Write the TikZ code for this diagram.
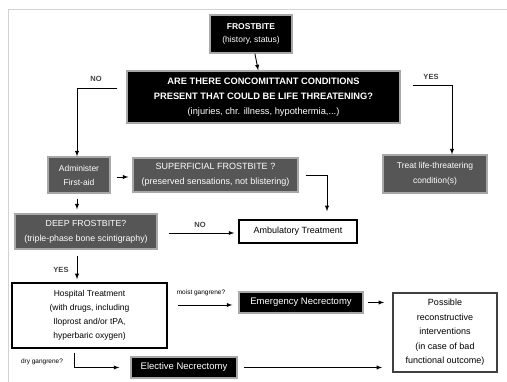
\documentclass[tikz,border=0pt]{standalone}
\usepackage{fontspec}
\setmainfont{Liberation Sans}
\definecolor{boxgrey}{HTML}{565656}
\definecolor{rimgrey}{HTML}{A8A8A8}

\begin{document}
\begin{tikzpicture}[->,>=latex,x=1pt,y=-1pt,line width=0.9pt,
		black box/.style={rectangle,draw=rimgrey,line width=1.4pt,fill=black,text=white,align=center,inner sep=0pt},
		grey box/.style={rectangle,draw=rimgrey,line width=1.2pt,fill=boxgrey,text=white,align=center,inner sep=0pt},
		white box/.style={rectangle,draw=black,line width=1.5pt,fill=white,align=center,inner sep=0pt},
		answer/.style={font=\fontsize{7.5}{8}\selectfont\bfseries,text=black!75},
		side note/.style={font=\fontsize{6.5}{7}\selectfont}]

		\useasboundingbox (0,0) rectangle (507,382);
		\draw[-,gray!35,line width=1pt] (507,10) -| (8,382);

		\node[black box,minimum width=82pt,minimum height=38pt,font=\fontsize{8.5}{13}\selectfont] (frost) at (251,34) {\textbf{FROSTBITE}\\(history, status)};
		\node[black box,minimum width=273pt,minimum height=52pt,font=\fontsize{9.3}{15}\selectfont] (cond) at (263.5,97)
			{\textbf{ARE THERE CONCOMITTANT CONDITIONS}\\\textbf{PRESENT THAT COULD BE LIFE THREATENING?}\\(injuries, chr. illness, hypothermia,...)};
		\node[grey box,minimum width=62pt,minimum height=36pt,font=\fontsize{8.5}{14}\selectfont] (admin) at (79,175) {Administer\\First-aid};
		\node[grey box,minimum width=165pt,minimum height=34pt,font=\fontsize{9}{15}\selectfont] (super) at (215.5,175)
			{SUPERFICIAL FROSTBITE ?\\(preserved sensations, not blistering)};
		\node[grey box,minimum width=104pt,minimum height=38pt,font=\fontsize{8.5}{15}\selectfont] (treat) at (435,174) {Treat life-threatering\\condition(s)};
		\node[grey box,minimum width=142pt,minimum height=35pt,font=\fontsize{8.8}{15}\selectfont] (deep) at (86,231.5)
			{DEEP FROSTBITE?\\(triple-phase bone scintigraphy)};
		\node[white box,minimum width=118pt,minimum height=23pt,font=\fontsize{9}{11}\selectfont] (amb) at (298,231.5) {Ambulatory Treatment};
		\node[white box,minimum width=155pt,minimum height=65pt,font=\fontsize{8.5}{14}\selectfont] (hosp) at (89.5,315.5)
			{Hospital Treatment\\(with drugs, including\\Iloprost and/or tPA,\\hyperbaric oxygen)};
		\node[black box,minimum width=124pt,minimum height=21pt,font=\fontsize{9.5}{11}\selectfont] (emerg) at (301,302.5) {Emergency Necrectomy};
		\node[white box,draw=black!75,line width=1.8pt,minimum width=104pt,minimum height=79pt,font=\fontsize{9}{14.5}\selectfont] (poss) at (445,332.5)
			{Possible\\reconstructive\\interventions\\(in case of bad\\functional outcome)};
		\node[black box,minimum width=106pt,minimum height=21pt,font=\fontsize{9.5}{11}\selectfont] (elect) at (184,367.5) {Elective Necrectomy};

		% answers
		\node[answer] (no1) at (96,79) {NO};
		\node[answer] (yes1) at (431,77) {YES};
		\node[answer] (no2) at (200,225) {NO};
		\node[answer] (yes2) at (61,270) {YES};
		\node[side note] (moist) at (201,293) {moist gangrene?};
		\node[side note] (dry) at (42,362) {dry gangrene?};

		\draw (frost) -- (cond);
		\draw[shorten <=9pt] ([yshift=9pt]cond.west) -| ([xshift=-2pt]admin.north);
		\draw[shorten <=12pt] ([yshift=12pt]cond.east) -| ([xshift=17pt]treat.north);
		\draw[shorten <=6pt,shorten >=4pt] ([yshift=-2pt]admin.east) -- ([yshift=-2pt]super.west);
		\draw[shorten <=7pt,shorten >=8pt] (super.east) -| ([xshift=29pt]amb.north);
		\draw[shorten <=5pt,shorten >=4pt] ([xshift=-2pt]admin.south) -- ([xshift=-2pt]admin.south |- deep.north);
		\draw[shorten <=11pt,shorten >=4pt] ([yshift=-1.5pt]deep.east) -- ([yshift=-1.5pt]amb.west);
		\draw[shorten <=6pt,shorten >=3pt] ([xshift=-9pt]deep.south) -- ([xshift=-9pt]deep.south |- hosp.north);
		\draw[shorten <=10pt,shorten >=6pt] ([yshift=10.5pt]hosp.east) -- ([yshift=-2.5pt]emerg.west);
		\draw[shorten <=4pt,shorten >=8pt] (emerg.east) -- (emerg.east -| poss.west);
		\draw[shorten <=4pt,shorten >=11pt] ([xshift=-15.5pt]hosp.south) |- (elect.west);
		\draw[shorten <=6pt,shorten >=10pt] (elect.east) -- (elect.east -| poss.west);
\end{tikzpicture}
\end{document}
